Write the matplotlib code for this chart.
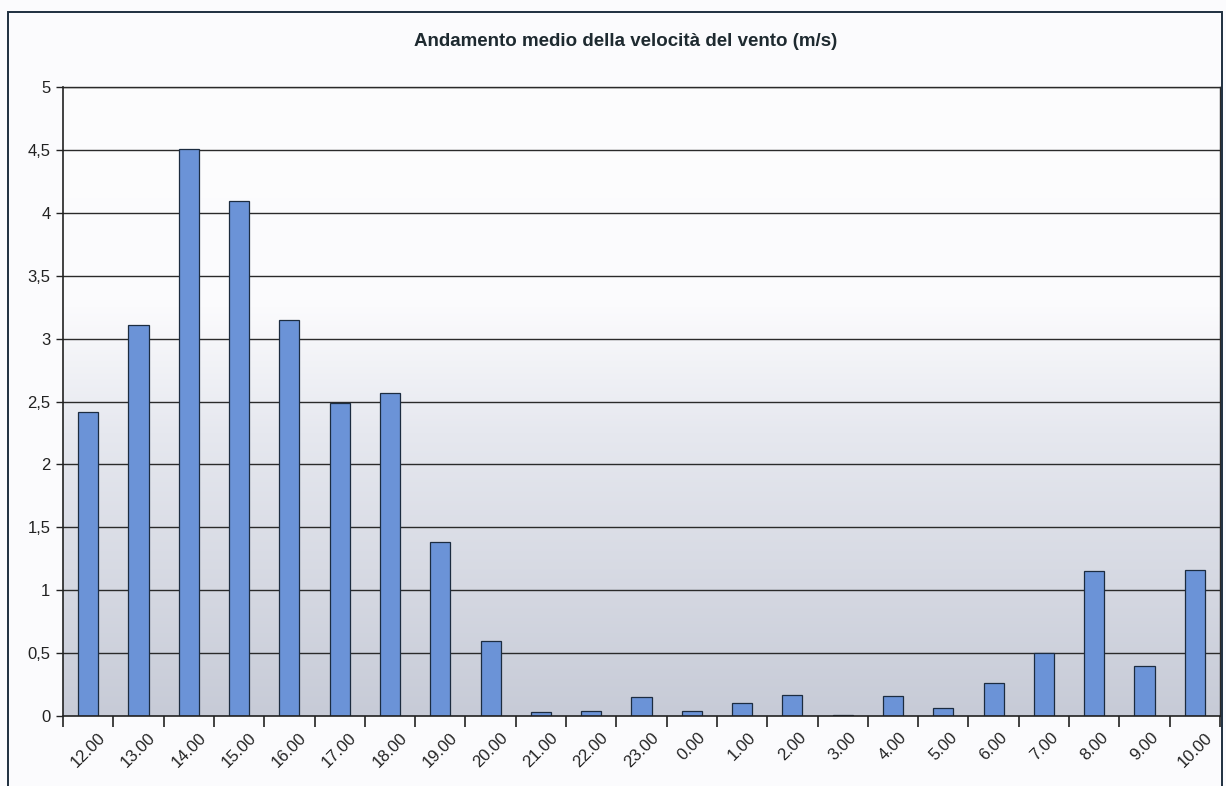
import numpy as np
import matplotlib
matplotlib.use('Agg')
import matplotlib.pyplot as plt
from matplotlib.patches import Rectangle
from matplotlib.colors import LinearSegmentedColormap

plt.rcParams['font.family'] = ['Liberation Sans', 'DejaVu Sans']

ore = ['12.00', '13.00', '14.00', '15.00', '16.00', '17.00', '18.00', '19.00',
       '20.00', '21.00', '22.00', '23.00', '0.00', '1.00', '2.00', '3.00',
       '4.00', '5.00', '6.00', '7.00', '8.00', '9.00', '10.00']
velocita = [2.42, 3.11, 4.51, 4.09, 3.15, 2.49, 2.57, 1.38, 0.60, 0.03, 0.04,
            0.15, 0.04, 0.10, 0.17, 0.01, 0.16, 0.06, 0.26, 0.50, 1.15, 0.40, 1.16]
y_ticks = [0, 0.5, 1, 1.5, 2, 2.5, 3, 3.5, 4, 4.5, 5]

W, H = 1226, 786
fig = plt.figure(figsize=(W / 100, H / 100), dpi=100)
fig.patch.set_facecolor('#fbfbfd')

# chart-area frame (Excel style)
fig.patches.append(Rectangle((8 / W, -0.05), (1222 - 8) / W, 1.05 - 12 / H,
                             transform=fig.transFigure, fill=False,
                             edgecolor='#1f2f3f', linewidth=1.4))

ax = fig.add_axes([63 / W, 1 - 716 / H, (1220 - 63) / W, (716 - 87) / H])
n = len(ore)
ax.set_xlim(0, n)
ax.set_ylim(0, 5)

# plot-area gradient: white at top -> grey-blue at bottom
cmap = LinearSegmentedColormap.from_list('bg', [(0.0, '#c7cbd7'), (0.45, '#e6e8ef'),
                                                (0.65, '#fbfbfd'), (1.0, '#fdfdfe')])
grad = np.linspace(0, 1, 256).reshape(-1, 1)
ax.imshow(grad, aspect='auto', cmap=cmap, origin='lower',
          extent=[0, n, 0, 5], zorder=0)

for y in y_ticks[1:]:
    ax.axhline(y, color='#2a2a2a', linewidth=1.0, zorder=1)

x = np.arange(n) + 0.5
ax.bar(x, velocita, width=0.4, color='#6b93d7', edgecolor='#1c2c40',
       linewidth=0.9, zorder=2)

ax.set_yticks(y_ticks)
ax.set_yticklabels([f'{v:g}'.replace('.', ',') for v in y_ticks], fontsize=12,
                   color='#222222')
ax.set_xticks(np.arange(n + 1), minor=False)
ax.set_xticklabels([])
ax.set_xticks(x, minor=True)
ax.set_xticklabels(ore, minor=True, rotation=45, ha='center', va='top',
                   fontsize=12, color='#222222')
ax.tick_params(axis='x', which='major', length=8, width=1.2, color='#222222')
ax.tick_params(axis='x', which='minor', length=0, pad=10)
ax.tick_params(axis='y', length=5, width=1.0, color='#222222', pad=4)

for s in ['top', 'right']:
    ax.spines[s].set_color('#2a2a2a')
    ax.spines[s].set_linewidth(1.0)
ax.spines['left'].set_color('#222222')
ax.spines['bottom'].set_color('#222222')
ax.spines['left'].set_linewidth(1.2)
ax.spines['bottom'].set_linewidth(1.2)

fig.text(626 / W, 1 - 42 / H, 'Andamento medio della velocità del vento (m/s)',
         ha='center', va='center', fontsize=13.5, fontweight='bold', color='#1e2a30')

fig.savefig('out.png', dpi=100, facecolor=fig.get_facecolor())
